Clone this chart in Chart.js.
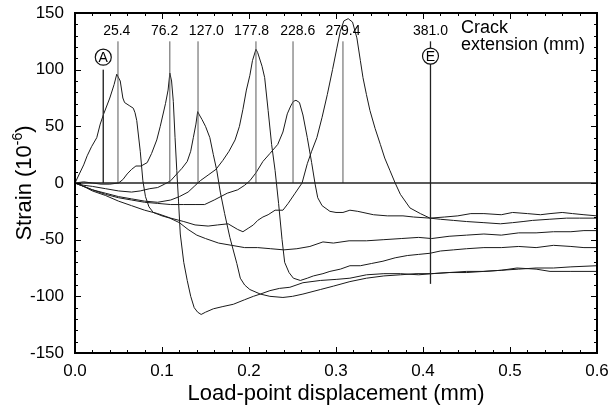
<!DOCTYPE html>
<html>
<head>
<meta charset="utf-8">
<script src="https://cdn.jsdelivr.net/npm/chart.js@4.4.1/dist/chart.umd.min.js"></script>
<style>
  html, body { margin: 0; padding: 0; background: #fff; }
</style>
</head>
<body>
<canvas id="strainChart" width="608" height="407"></canvas>
<script>
// Strain gauge readings vs load-point displacement, one curve per gauge

// --------------------------------------------------------
// Data
// --------------------------------------------------------
const xTickLabels = ['0.0', '0.1', '0.2', '0.3', '0.4', '0.5', '0.6'];
const yTickLabels = ['-150', '-100', '-50', '0', '50', '100', '150'];

// gauge at 25.4 mm
const disp254 = [0, 0.005, 0.010, 0.014, 0.019, 0.025, 0.029, 0.033, 0.040, 0.045, 0.048, 0.052, 0.055, 0.057, 0.063, 0.067, 0.069, 0.071, 0.075, 0.078, 0.081, 0.085, 0.090, 0.100, 0.109, 0.120, 0.130, 0.140, 0.150, 0.165, 0.180, 0.195, 0.210, 0.225, 0.240, 0.255, 0.270, 0.285, 0.297, 0.315, 0.335, 0.355, 0.375, 0.395, 0.410, 0.430, 0.450, 0.470, 0.490, 0.510, 0.530, 0.550, 0.570, 0.585, 0.600];
const strain254 = [0, 8, 16, 24, 32, 40, 52, 61, 75, 87, 96, 90, 75, 71, 68, 66, 62, 55, 28, 2, -12, -21, -26, -29, -31, -35, -41, -46, -49, -53, -55, -57, -57, -58, -59, -58, -56, -52, -53, -51, -51, -50, -49, -48, -49, -47, -46, -45, -46, -44, -44, -43, -43, -42, -42];

// gauge at 76.2 mm
const disp762 = [0, 0.010, 0.020, 0.030, 0.040, 0.050, 0.055, 0.060, 0.065, 0.070, 0.076, 0.083, 0.088, 0.094, 0.098, 0.101, 0.104, 0.107, 0.109, 0.111, 0.113, 0.115, 0.117, 0.119, 0.121, 0.125, 0.129, 0.133, 0.137, 0.141, 0.145, 0.150, 0.159, 0.170, 0.182, 0.195, 0.205, 0.213, 0.224, 0.235, 0.247, 0.262, 0.282, 0.301, 0.316, 0.335, 0.355, 0.374, 0.395, 0.410, 0.430, 0.450, 0.470, 0.490, 0.510, 0.530, 0.550, 0.570, 0.600];
const strain762 = [0, 1, 0, -1, -1, 0, 3, 8, 12, 15, 15, 18, 26, 38, 50, 60, 70, 82, 97, 90, 72, 40, 11, -16, -45, -70, -86, -100, -110, -114, -116, -114, -111, -109, -107, -103, -100, -98, -95, -93, -92, -88, -86, -85, -84, -81, -80, -80, -81, -80, -79, -78, -78, -77, -76, -75, -75, -74, -73];

// gauge at 127.0 mm
const disp1270 = [0, 0.010, 0.020, 0.035, 0.050, 0.065, 0.075, 0.086, 0.095, 0.103, 0.110, 0.117, 0.123, 0.129, 0.133, 0.136, 0.139, 0.141, 0.143, 0.146, 0.150, 0.155, 0.159, 0.163, 0.167, 0.172, 0.178, 0.186, 0.190, 0.195, 0.201, 0.213, 0.224, 0.239, 0.250, 0.262, 0.282, 0.297, 0.316, 0.335, 0.355, 0.374, 0.392, 0.410, 0.430, 0.450, 0.470, 0.490, 0.508, 0.530, 0.546, 0.570, 0.600];
const strain1270 = [0, -2, -3, -5, -7, -8, -7, -5, -4, -1, 2, 8, 13, 19, 28, 40, 52, 63, 60, 56, 50, 40, 25, 11, -8, -27, -48, -71, -84, -90, -94, -98, -100, -101, -100, -98, -94, -91, -87, -84, -82, -81, -80, -80, -79, -79, -78, -77, -75, -76, -78, -78, -78];

// gauge at 177.8 mm
const disp1778 = [0, 0.010, 0.020, 0.035, 0.050, 0.065, 0.080, 0.095, 0.110, 0.120, 0.130, 0.137, 0.144, 0.153, 0.162, 0.170, 0.177, 0.184, 0.189, 0.193, 0.197, 0.201, 0.204, 0.208, 0.210, 0.215, 0.218, 0.222, 0.226, 0.230, 0.234, 0.238, 0.241, 0.246, 0.251, 0.259, 0.267, 0.274, 0.285, 0.293, 0.305, 0.316, 0.328, 0.341, 0.354, 0.368, 0.382, 0.395, 0.408, 0.420, 0.435, 0.450, 0.470, 0.490, 0.510, 0.530, 0.550, 0.570, 0.585, 0.600];
const strain1778 = [0, -3, -6, -9, -12, -14, -16, -17, -15, -12, -8, -3, 2, 7, 12, 20, 28, 38, 50, 65, 82, 95, 108, 118, 115, 103, 93, 64, 34, 11, -18, -50, -70, -79, -84, -86, -84, -82, -80, -78, -76, -73, -73, -71, -69, -66, -64, -63, -62, -60, -59, -58, -57, -57, -56, -57, -55, -56, -57, -57];

// gauge at 228.6 mm
const disp2286 = [0, 0.010, 0.020, 0.035, 0.050, 0.065, 0.080, 0.095, 0.110, 0.125, 0.138, 0.149, 0.160, 0.175, 0.187, 0.195, 0.201, 0.208, 0.216, 0.224, 0.233, 0.239, 0.244, 0.248, 0.251, 0.254, 0.258, 0.262, 0.267, 0.272, 0.276, 0.279, 0.284, 0.293, 0.300, 0.308, 0.316, 0.325, 0.331, 0.343, 0.359, 0.377, 0.389, 0.408, 0.425, 0.440, 0.455, 0.470, 0.490, 0.503, 0.520, 0.535, 0.546, 0.560, 0.572, 0.585, 0.600];
const strain2286 = [0, -3, -6, -10, -13, -15, -17, -18, -19, -19, -19, -19, -15, -9, -6, -2, 2, 9, 19, 26, 34, 45, 61, 68, 72, 73, 71, 60, 40, 18, -1, -13, -20, -25, -26, -26, -24, -25, -26, -28, -29, -29, -30, -31, -30, -29, -27, -27, -28, -26, -27, -28, -27, -26, -27, -28, -29];

// gauge at 279.4 mm
const disp2794 = [0, 0.010, 0.020, 0.035, 0.050, 0.065, 0.080, 0.095, 0.110, 0.125, 0.138, 0.153, 0.164, 0.176, 0.187, 0.193, 0.199, 0.205, 0.210, 0.216, 0.222, 0.230, 0.239, 0.245, 0.253, 0.261, 0.267, 0.272, 0.278, 0.284, 0.290, 0.296, 0.301, 0.305, 0.309, 0.314, 0.319, 0.324, 0.328, 0.331, 0.335, 0.339, 0.345, 0.351, 0.356, 0.362, 0.368, 0.374, 0.385, 0.397, 0.408, 0.420, 0.435, 0.450, 0.470, 0.489, 0.503, 0.515, 0.526, 0.545, 0.565, 0.580, 0.600];
const strain2794 = [0, -3, -7, -11, -16, -20, -24, -27, -31, -34, -37, -38, -37, -36, -41, -43, -40, -37, -33, -30, -28, -24, -24, -18, -9, 0, 17, 28, 40, 58, 78, 100, 119, 134, 143, 145, 142, 128, 108, 93, 78, 64, 48, 34, 22, 11, 0, -10, -22, -27, -31, -32, -33, -34, -35, -36, -35, -34, -33, -32, -31, -31, -31];

// crack extension markers (mm) and where they sit on the displacement axis
const crackLabels = ['25.4', '76.2', '127.0', '177.8', '228.6', '279.4', '381.0'];
const crackLabelDisp = [0.048, 0.103, 0.151, 0.203, 0.256, 0.308, 0.4086];
const crackLineDisp = [0.0494, 0.109, 0.1414, 0.208, 0.2506, 0.308];
const crackLineTop = 125;
const crackLabelLevel = 131;

// A (start) and E (end) markers
const markA = { x: 0.0325, bottom: 0, top: 100, circle: 111 };
const markE = { x: 0.4086, bottom: -89, top: 125, circle: 112 };

const FONT = '"Liberation Sans", Arial, Helvetica, sans-serif';

// --------------------------------------------------------
// Datasets
// --------------------------------------------------------
function pts(xs, ys) {
    return xs.map((x, i) => ({ x: x, y: ys[i] }));
}

function seg(x0, y0, x1, y1) {
    return [{ x: x0, y: y0 }, { x: x1, y: y1 }];
}

const curve = { borderColor: '#1a1a1a', borderWidth: 1, pointRadius: 0, tension: 0, fill: false };

const datasets = [
    { ...curve, data: seg(0, 0, 0.6, 0), borderColor: '#222', borderWidth: 1.6 },
];

crackLineDisp.forEach(d => {
    datasets.push({ ...curve, data: seg(d, 0, d, crackLineTop), borderColor: '#5a5a5a' });
});
datasets.push({ ...curve, data: seg(markA.x, markA.bottom, markA.x, markA.top), borderColor: '#333', borderWidth: 1.5 });
datasets.push({ ...curve, data: seg(markE.x, markE.bottom, markE.x, markE.top), borderColor: '#222', borderWidth: 1.3 });

datasets.push({ ...curve, data: pts(disp254, strain254) });
datasets.push({ ...curve, data: pts(disp762, strain762) });
datasets.push({ ...curve, data: pts(disp1270, strain1270) });
datasets.push({ ...curve, data: pts(disp1778, strain1778) });
datasets.push({ ...curve, data: pts(disp2286, strain2286) });
datasets.push({ ...curve, data: pts(disp2794, strain2794) });

// --------------------------------------------------------
// Frame, inward ticks, labels and titles
// --------------------------------------------------------
function drawLine(ctx, x0, y0, x1, y1) {
    ctx.beginPath();
    ctx.moveTo(x0, y0);
    ctx.lineTo(x1, y1);
    ctx.stroke();
}

function drawCircled(ctx, cx, cy, letter) {
    ctx.beginPath();
    ctx.arc(cx, cy, 8, 0, Math.PI * 2);
    ctx.fillStyle = '#fff';
    ctx.fill();
    ctx.lineWidth = 1.2;
    ctx.strokeStyle = '#111';
    ctx.stroke();
    ctx.fillStyle = '#000';
    ctx.font = '14px ' + FONT;
    ctx.textAlign = 'center';
    ctx.textBaseline = 'middle';
    ctx.fillText(letter, cx, cy + 1);
}

const decorPlugin = {
    id: 'decor',
    afterDatasetsDraw(chart) {
        const { ctx, chartArea: a, scales: { x, y } } = chart;
        ctx.save();

        // inward ticks on all four sides
        ctx.strokeStyle = '#000';
        ctx.lineWidth = 1;
        for (let i = 0; i <= 30; i++) {
            const py = Math.round(y.getPixelForValue(-150 + i * 10)) + 0.5;
            const len = i % 5 === 0 ? 6 : 3;
            drawLine(ctx, a.left, py, a.left + len, py);
            drawLine(ctx, a.right, py, a.right - len, py);
        }
        for (let i = 0; i <= 30; i++) {
            const px = Math.round(x.getPixelForValue(i * 0.02)) + 0.5;
            const len = i % 5 === 0 ? 6 : 3;
            drawLine(ctx, px, a.bottom, px, a.bottom - len);
            drawLine(ctx, px, a.top, px, a.top + len);
        }

        // frame
        ctx.lineWidth = 2;
        ctx.strokeRect(a.left, a.top, a.right - a.left, a.bottom - a.top);

        // crack extension labels
        ctx.fillStyle = '#000';
        ctx.font = '14px ' + FONT;
        ctx.textAlign = 'center';
        ctx.textBaseline = 'alphabetic';
        crackLabels.forEach((t, i) => {
            ctx.fillText(t, x.getPixelForValue(crackLabelDisp[i]), y.getPixelForValue(crackLabelLevel));
        });

        ctx.font = '18px ' + FONT;
        ctx.textAlign = 'left';
        ctx.fillText('Crack', x.getPixelForValue(0.4437), y.getPixelForValue(132));
        ctx.fillText('extension (mm)', x.getPixelForValue(0.4437), y.getPixelForValue(117));

        drawCircled(ctx, x.getPixelForValue(markA.x), y.getPixelForValue(markA.circle), 'A');
        drawCircled(ctx, x.getPixelForValue(markE.x), y.getPixelForValue(markE.circle), 'E');

        // axis titles
        ctx.fillStyle = '#000';
        ctx.textBaseline = 'alphabetic';
        ctx.font = '22px ' + FONT;
        ctx.textAlign = 'center';
        ctx.fillText('Load-point displacement (mm)', (a.left + a.right) / 2, 400);

        const main = 'Strain (10', sup = '-6', close = ')';
        ctx.font = '22px ' + FONT;
        const w1 = ctx.measureText(main).width, w3 = ctx.measureText(close).width;
        ctx.font = '14px ' + FONT;
        const w2 = ctx.measureText(sup).width;
        const total = w1 + w2 + w3;
        ctx.translate(31, (a.top + a.bottom) / 2);
        ctx.rotate(-Math.PI / 2);
        ctx.textAlign = 'left';
        ctx.font = '22px ' + FONT;
        ctx.fillText(main, -total / 2, 0);
        ctx.font = '14px ' + FONT;
        ctx.fillText(sup, -total / 2 + w1, -9);
        ctx.font = '22px ' + FONT;
        ctx.fillText(close, -total / 2 + w1 + w2, 0);

        ctx.restore();
    }
};

// --------------------------------------------------------
// Chart
// --------------------------------------------------------
const ctx = document.getElementById('strainChart').getContext('2d');

const strainChart = new Chart(ctx, {
    type: 'line',
    data: { datasets: datasets },
    options: {
        responsive: false,
        animation: false,
        events: [],
        layout: { padding: { top: 13, right: 11, bottom: 0, left: 0 } },
        plugins: {
            legend: { display: false },
            tooltip: { enabled: false }
        },
        scales: {
            x: {
                type: 'linear',
                min: 0,
                max: 0.6,
                grid: { display: false, drawTicks: false },
                border: { display: false },
                ticks: {
                    stepSize: 0.1,
                    autoSkip: false,
                    maxRotation: 0,
                    padding: 8,
                    color: '#000',
                    font: { family: FONT, size: 17 },
                    callback: (v, i) => xTickLabels[i]
                },
                afterFit(s) {
                    s.height = 54;
                    s.paddingLeft = 0;
                    s.paddingRight = 0;
                }
            },
            y: {
                type: 'linear',
                min: -150,
                max: 150,
                grid: { display: false, drawTicks: false },
                border: { display: false },
                ticks: {
                    stepSize: 50,
                    padding: 11,
                    color: '#000',
                    font: { family: FONT, size: 17 },
                    callback: (v, i) => yTickLabels[i]
                },
                afterFit(s) {
                    s.width = 75;
                    s.paddingTop = 0;
                    s.paddingBottom = 0;
                }
            }
        }
    },
    plugins: [decorPlugin]
});
</script>
</body>
</html>
